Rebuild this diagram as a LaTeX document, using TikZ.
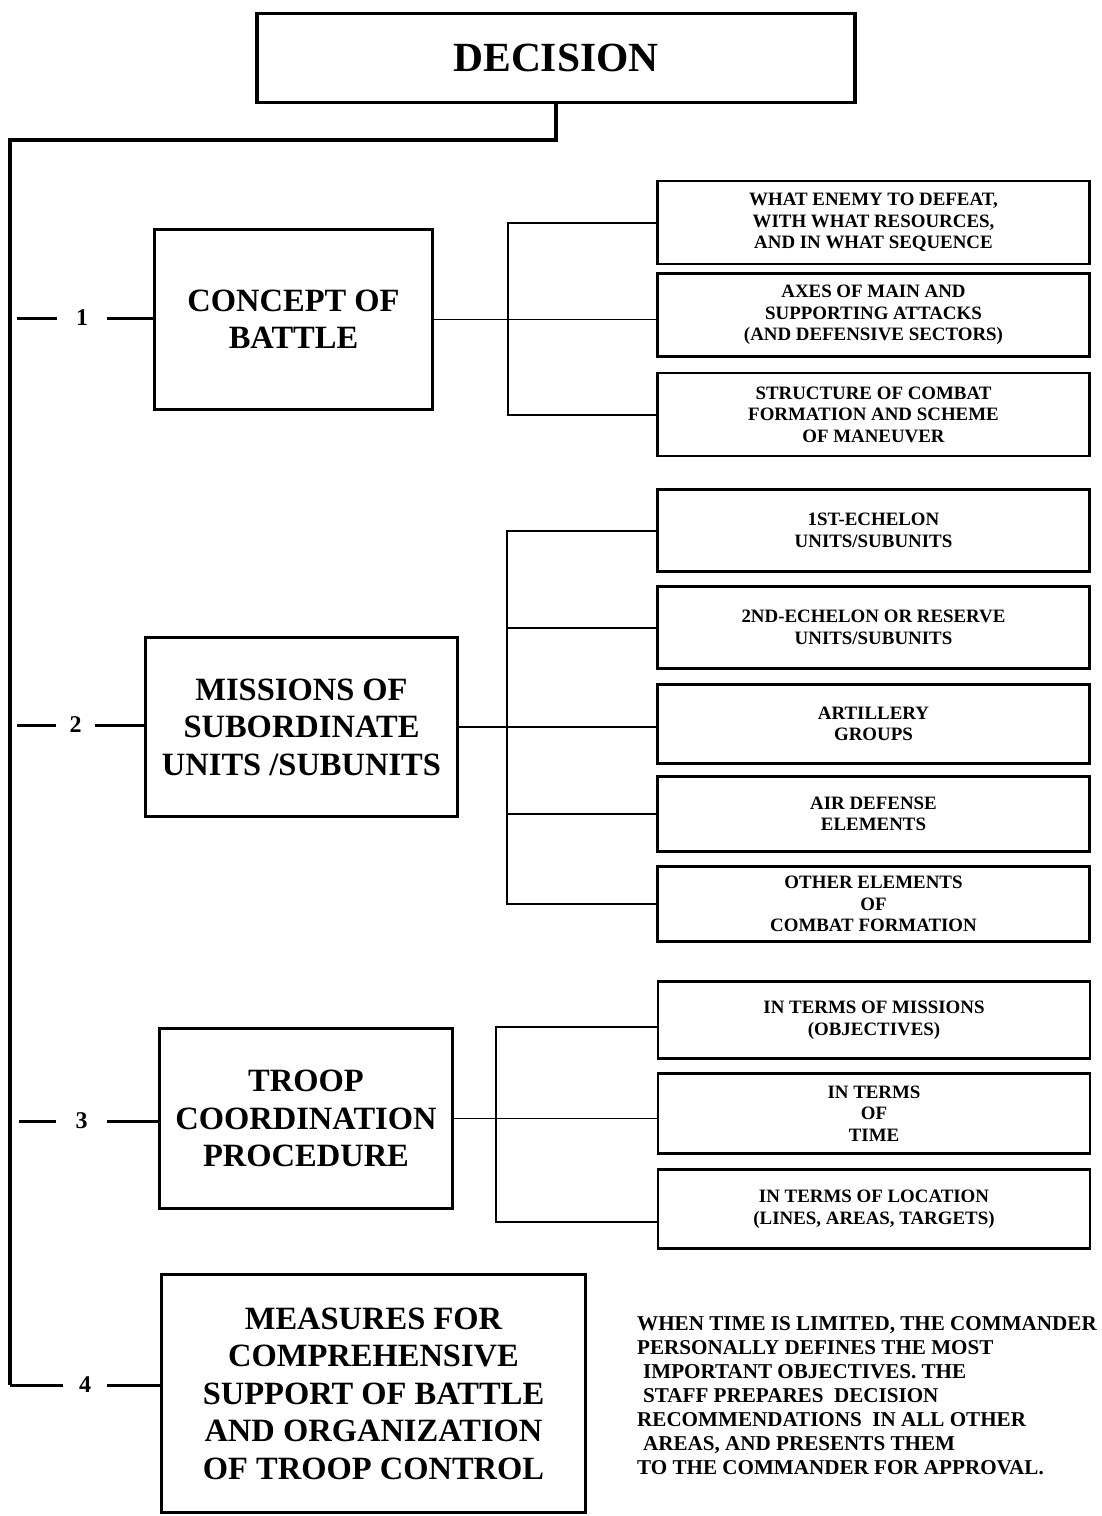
\documentclass[tikz,border=0pt]{standalone}
\usepackage{fontspec}
\setmainfont{Liberation Serif}
\begin{document}
\begin{tikzpicture}[x=1pt,y=-1pt,
  mainbox/.style={draw, line width=3.2pt, inner sep=0pt, align=center, font=\bfseries\fontsize{32.5}{37.5}\selectfont},
  subbox/.style={draw, line width=2.2pt, inner sep=0pt, align=center, minimum width=432pt, font=\bfseries\fontsize{18.9}{21.5}\selectfont},
  numlbl/.style={inner sep=0pt, font=\bfseries\fontsize{24}{24}\selectfont},
  trunk/.style={line width=3.2pt},
  dashln/.style={line width=3pt},
  branch/.style={line width=2pt},
  link/.style={line width=1.6pt}
]
\useasboundingbox (0,0) rectangle (1102,1516);

% top
\node[mainbox, minimum width=598pt, minimum height=89pt, font=\bfseries\fontsize{41.5}{41.5}\selectfont] (dec) at (556,58) {DECISION};
\coordinate (tc) at (10,140);
\coordinate (tb) at (10,1385);
\draw[trunk] (dec.south) -- (dec.south |- tc) -- (tc) -- (tb);

% group 1
\node[mainbox, minimum width=278pt, minimum height=180pt] (b1) at (293.5,319.5) {CONCEPT OF\\BATTLE};
\node[numlbl, minimum width=50pt] (n1) at (82,318) {1};
\coordinate (s1) at (17,318);
\draw[dashln] (s1) -- (n1.west);
\draw[dashln] (n1.east) -- (n1.east -| b1.west);
\node[subbox, minimum height=83pt] (a1) at (873.5,222.5) {WHAT ENEMY TO DEFEAT,\\WITH WHAT RESOURCES,\\AND IN WHAT SEQUENCE};
\node[subbox, minimum height=83pt] (a2) at (873.5,315) {AXES OF MAIN AND\\SUPPORTING ATTACKS\\(AND DEFENSIVE SECTORS)};
\node[subbox, minimum height=83pt] (a3) at (873.5,414.5) {STRUCTURE OF COMBAT\\FORMATION AND SCHEME\\OF MANEUVER};
\coordinate (bar1) at (508,0);
\draw[link] (b1.east) -- (b1.east -| a2.west);
\draw[branch] (a1.west) -- (a1.west -| bar1) -- (a3.west -| bar1) -- (a3.west);

% group 2
\node[mainbox, minimum width=312pt, minimum height=179pt] (b2) at (301.5,727) {MISSIONS OF\\SUBORDINATE\\UNITS /SUBUNITS};
\node[numlbl, minimum width=39pt] (n2) at (75.5,725) {2};
\coordinate (s2) at (17,725);
\draw[dashln] (s2) -- (n2.west);
\draw[dashln] (n2.east) -- (n2.east -| b2.west);
\node[subbox, minimum height=82pt] (c1) at (873.5,530.5) {1ST-ECHELON\\UNITS/SUBUNITS};
\node[subbox, minimum height=82pt] (c2) at (873.5,627.5) {2ND-ECHELON OR RESERVE\\UNITS/SUBUNITS};
\node[subbox, minimum height=79pt] (c3) at (873.5,724) {ARTILLERY\\GROUPS};
\node[subbox, minimum height=75pt] (c4) at (873.5,814) {AIR DEFENSE\\ELEMENTS};
\node[subbox, minimum height=75pt] (c5) at (873.5,904) {OTHER ELEMENTS\\OF\\COMBAT FORMATION};
\coordinate (bar2) at (507,0);
\draw[link] (b2.east) -- (b2.east -| c3.west);
\draw[branch] (c1.west) -- (c1.west -| bar2) -- (c5.west -| bar2) -- (c5.west);
\draw[branch] (c2.west -| bar2) -- (c2.west);
\draw[branch] (c4.west -| bar2) -- (c4.west);

% group 3
\node[mainbox, minimum width=293pt, minimum height=180pt] (b3) at (306,1118.5) {TROOP\\COORDINATION\\PROCEDURE};
\node[numlbl, minimum width=51pt] (n3) at (81.5,1121) {3};
\coordinate (s3) at (19,1121);
\draw[dashln] (s3) -- (n3.west);
\draw[dashln] (n3.east) -- (n3.east -| b3.west);
\node[subbox, minimum height=77pt] (d1) at (874,1020) {IN TERMS OF MISSIONS\\(OBJECTIVES)};
\node[subbox, minimum height=80pt] (d2) at (874,1113.5) {IN TERMS\\OF\\TIME};
\node[subbox, minimum height=79pt] (d3) at (874,1209) {IN TERMS OF LOCATION\\(LINES, AREAS, TARGETS)};
\coordinate (bar3) at (496,0);
\coordinate (d1b) at ([yshift=-7pt]d1.west);
\coordinate (d3b) at ([yshift=-13pt]d3.west);
\draw[link] (b3.east) -- (b3.east -| d2.west);
\draw[branch] (d1b) -- (d1b -| bar3) -- (d3b -| bar3) -- (d3b);

% group 4
\node[mainbox, minimum width=424pt, minimum height=238pt] (b4) at (373.5,1393.5) {MEASURES FOR\\COMPREHENSIVE\\SUPPORT OF BATTLE\\AND ORGANIZATION\\OF TROOP CONTROL};
\node[numlbl, minimum width=44pt] (n4) at (85,1385) {4};
\draw[dashln] (tb) -- (n4.west);
\draw[dashln] (n4.east) -- (n4.east -| b4.west);

% note
\node[anchor=north west, align=left, inner sep=0pt, font=\bfseries\fontsize{21.1}{24}\selectfont] (note) at (637,1316)
{WHEN TIME IS LIMITED, THE COMMANDER\\
PERSONALLY DEFINES THE MOST\\
\hspace*{6pt}IMPORTANT OBJECTIVES. THE\\
\hspace*{6pt}STAFF PREPARES\ \ DECISION\\
RECOMMENDATIONS\ \ IN ALL OTHER\\
\hspace*{6pt}AREAS, AND PRESENTS THEM\\
TO THE COMMANDER FOR APPROVAL.};
\end{tikzpicture}
\end{document}
